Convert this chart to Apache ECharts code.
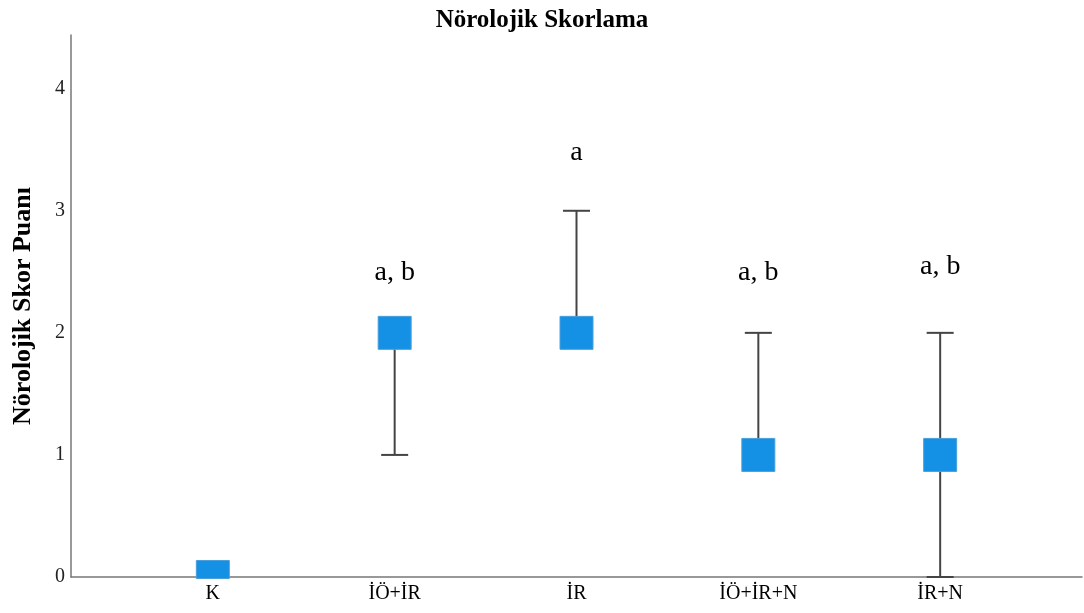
<!DOCTYPE html>
<html>
<head>
<meta charset="utf-8">
<script src="https://cdn.jsdelivr.net/npm/echarts@6/dist/echarts.min.js"></script>
<style>html,body{margin:0;padding:0;background:#fff}#c{width:1084px;height:613px}</style>
</head>
<body>
<div id="c"></div>
<script>
const categories = ['K', 'İÖ+İR', 'İR', 'İÖ+İR+N', 'İR+N'];
const medians = [0, 2, 2, 1, 1];
const lows = [0, 1, 2, 1, 0];
const highs = [0, 2, 3, 2, 2];
const letters = ['', 'a, b', 'a', 'a, b', 'a, b'];
const letterY = [0, 2.49, 3.48, 2.49, 2.54];
const yTicks = [0, 1, 2, 3, 4];

const chart = echarts.init(document.getElementById('c'));
const serif = 'Liberation Serif, Times New Roman, serif';

chart.setOption({
  animation: false,
  backgroundColor: '#fff',
  title: {
    text: 'Nörolojik Skorlama',
    left: 'center',
    top: 3,
    textStyle: { fontFamily: serif, fontWeight: 'bold', fontSize: 25, color: '#000' }
  },
  grid: { left: 71, right: 2, top: 35, bottom: 36, containLabel: false },
  xAxis: {
    type: 'value',
    min: -0.78,
    max: 4.78,
    splitLine: { show: false },
    axisTick: { show: false },
    axisLine: { show: true, onZero: false, lineStyle: { color: '#777', width: 1.5 } },
    axisLabel: {
      show: true,
      customValues: [0, 1, 2, 3, 4],
      formatter: v => categories[Math.round(v)] || '',
      fontFamily: serif,
      fontSize: 20,
      color: '#000',
      margin: 7
    }
  },
  yAxis: {
    type: 'value',
    min: 0,
    max: 4.44,
    interval: 1,
    name: 'Nörolojik Skor Puanı',
    nameLocation: 'middle',
    nameGap: 35,
    nameTextStyle: { fontFamily: serif, fontWeight: 'bold', fontSize: 26, color: '#000' },
    splitLine: { show: false },
    axisTick: { show: false },
    axisLine: { show: true, onZero: false, lineStyle: { color: '#777', width: 1.5 } },
    axisLabel: {
      customValues: yTicks,
      fontFamily: serif,
      fontSize: 20,
      color: '#222',
      margin: 6
    }
  },
  series: [
    {
      type: 'custom',
      data: categories.map((c, i) => [i, lows[i], medians[i], highs[i]]),
      renderItem: function (params, api) {
        const x = api.value(0);
        const lo = api.coord([x, api.value(1)]);
        const md = api.coord([x, api.value(2)]);
        const hi = api.coord([x, api.value(3)]);
        const cs = params.coordSys;
        const lineStyle = { stroke: '#444', lineWidth: 2 };
        const children = [];
        if (Math.abs(lo[1] - hi[1]) > 0.5) {
          children.push({ type: 'line', shape: { x1: lo[0], y1: lo[1], x2: hi[0], y2: hi[1] }, style: lineStyle });
        }
        const cw = 13.5;
        children.push({ type: 'line', shape: { x1: lo[0] - cw, y1: lo[1], x2: lo[0] + cw, y2: lo[1] }, style: lineStyle });
        children.push({ type: 'line', shape: { x1: hi[0] - cw, y1: hi[1], x2: hi[0] + cw, y2: hi[1] }, style: lineStyle });
        const half = 16.5;
        const rect = echarts.graphic.clipRectByRect(
          { x: md[0] - half, y: md[1] - half, width: half * 2, height: half * 2 },
          { x: cs.x, y: cs.y, width: cs.width, height: cs.height + 1.5 }
        );
        if (rect) {
          children.push({ type: 'rect', shape: rect, style: { fill: '#1490e4', stroke: '#4aa0dc', lineWidth: 1 } });
        }
        return { type: 'group', children: children };
      },
      z: 3
    },
    {
      type: 'custom',
      data: categories.map((c, i) => [i, letterY[i]]),
      renderItem: function (params, api) {
        const p = api.coord([api.value(0), api.value(1)]);
        return {
          type: 'text',
          x: p[0],
          y: p[1],
          style: {
            text: letters[params.dataIndex],
            fontFamily: serif,
            fontSize: 28,
            fill: '#000',
            align: 'center',
            verticalAlign: 'middle'
          }
        };
      },
      z: 4
    }
  ]
});
</script>
</body>
</html>
